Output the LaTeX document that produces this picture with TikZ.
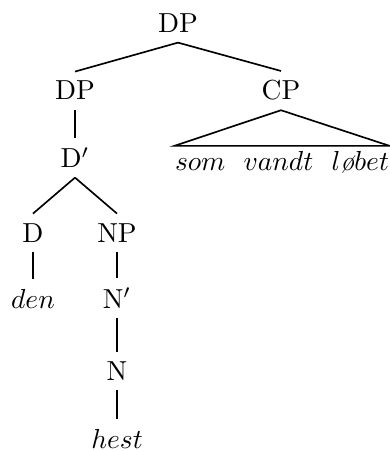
\documentclass[tikz,border=0pt]{standalone}
\usepackage{tikz}
\usetikzlibrary{positioning}
\tikzset{
cat/.style={inner sep=3.3pt, anchor=base},
leaf/.style={inner ysep=2pt, inner xsep=0pt, anchor=base},
branch/.style={line width=0.6pt},
stem/.style={line width=0.8pt}
}

\begin{document}
\begin{tikzpicture}[x=0.3636pt,y=-0.3636pt]
    \useasboundingbox (0,0) rectangle (390,451);

    \node[cat] (dp)   at (178,33)  {DP};
    \node[cat] (dpl)  at (75,100)  {DP};
    \node[cat] (cp)   at (281,100) {CP};
    \node[cat] (dbar) at (75,168)  {D$'$};
    \node[cat] (d)    at (33,242)  {D};
    \node[cat] (np)   at (117,242) {NP};
    \node[cat] (den)  at (33,308)  {$den$};
    \node[cat] (nbar) at (117,308) {N$'$};
    \node[cat] (n)    at (117,380) {N};
    \node[cat] (hest) at (117,448) {$hest$};
    \node[leaf] (rel) at (282,171) {$som\ \ vandt\ \ l\mbox{\itshape ø}bet$};

    \draw[branch] (dp.south) -- (dpl.north);
    \draw[branch] (dp.south) -- (cp.north);
    \draw[stem] (dpl.south) -- (dbar.north);
    \draw[branch] (dbar.south) -- (d.north);
    \draw[branch] (dbar.south) -- (np.north);
    \draw[stem] (d.south) -- (den.north);
    \draw[stem] (np.south) -- (nbar.north);
    \draw[stem] (nbar.south) -- (n.north);
    \draw[stem] (n.south) -- (hest.north);
    \draw[branch] (cp.south) -- (rel.north west) -- (rel.north east) -- cycle;
\end{tikzpicture}
\end{document}
